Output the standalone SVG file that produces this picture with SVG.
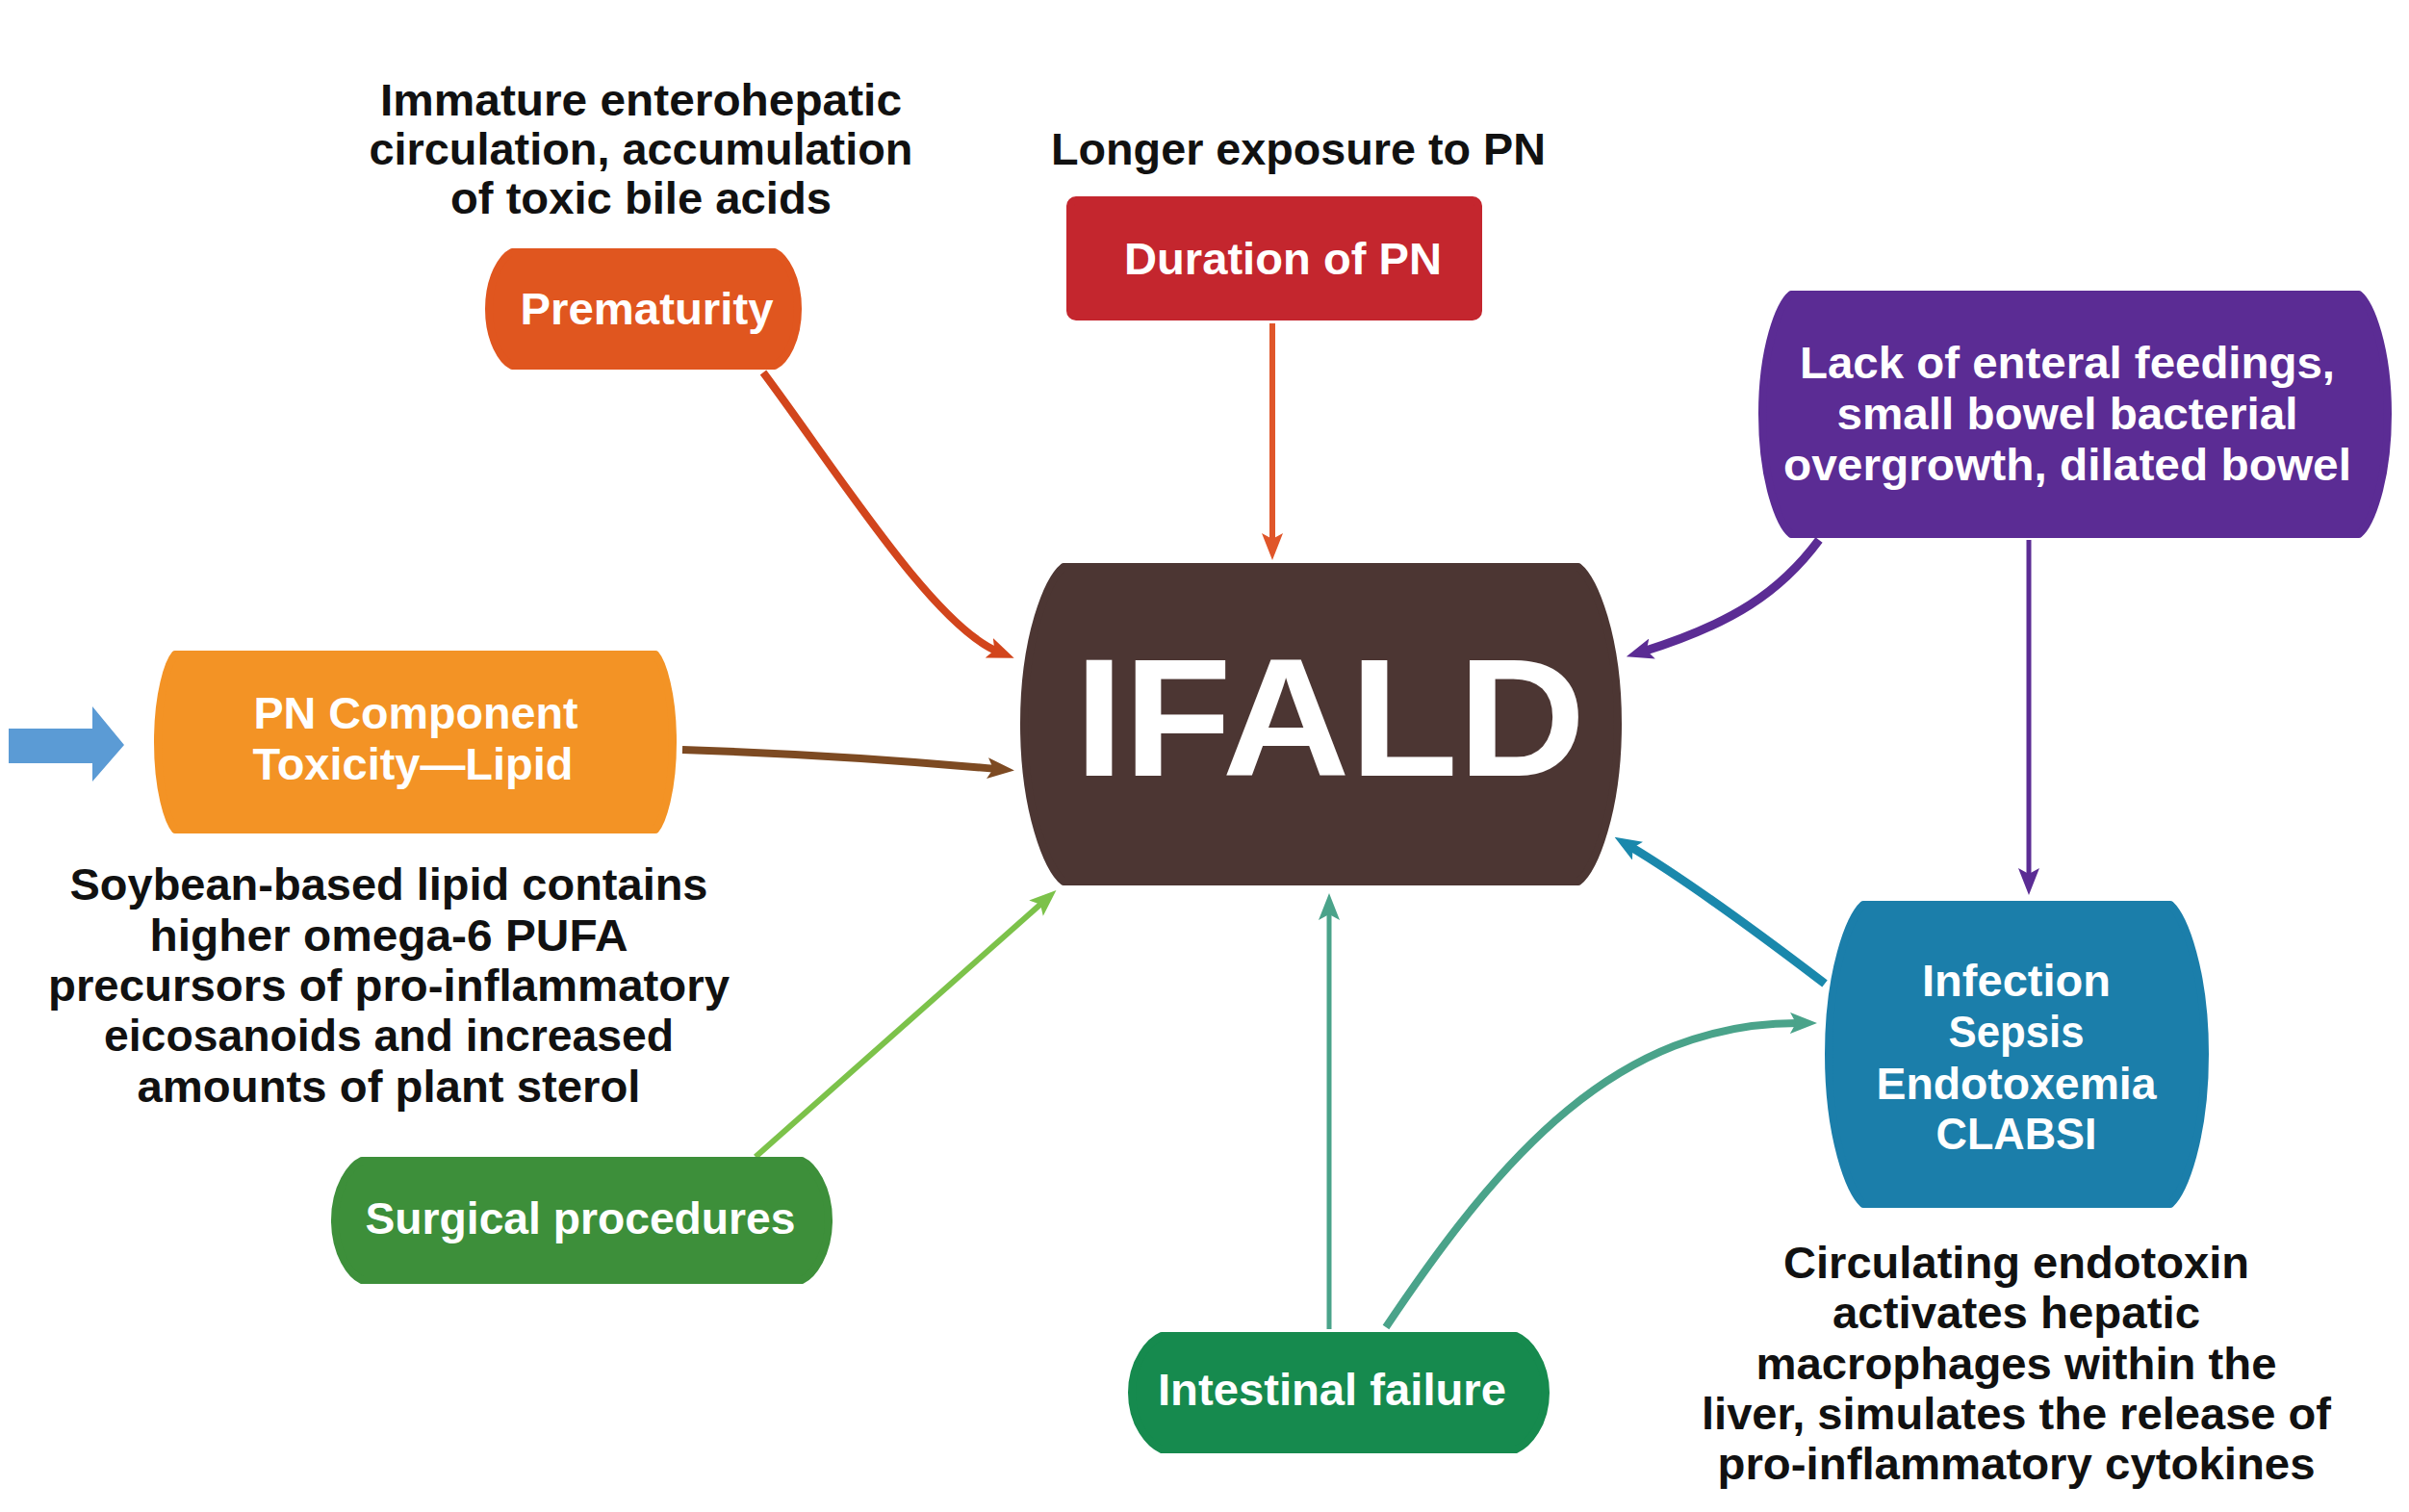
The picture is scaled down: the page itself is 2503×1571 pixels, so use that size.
<svg xmlns="http://www.w3.org/2000/svg" width="2503" height="1571" viewBox="0 0 2503 1571">
<style>
.d{font-family:"Liberation Sans",Arial,sans-serif;font-weight:700;font-size:46px;fill:#111;text-anchor:middle}
.n{font-family:"Liberation Sans",Arial,sans-serif;font-weight:700;font-size:46px;fill:#fff;text-anchor:middle}
.big{font-family:"Liberation Sans",Arial,sans-serif;font-weight:700;font-size:175px;fill:#fff;text-anchor:middle}
.c{fill:none;stroke-linecap:butt}
.box{stroke-width:8;stroke-linejoin:round}
</style>
<defs>
<marker id="mRed" viewBox="0 0 28 22" refX="10" refY="11" markerWidth="28" markerHeight="22" markerUnits="userSpaceOnUse" orient="auto"><path d="M0,0 L28,11 L0,22 L6,11 z" fill="#d2451c"/></marker>
<marker id="mOr" viewBox="0 0 28 22" refX="10" refY="11" markerWidth="28" markerHeight="22" markerUnits="userSpaceOnUse" orient="auto"><path d="M0,0 L28,11 L0,22 L6,11 z" fill="#e0562a"/></marker>
<marker id="mPur" viewBox="0 0 28 22" refX="10" refY="11" markerWidth="28" markerHeight="22" markerUnits="userSpaceOnUse" orient="auto"><path d="M0,0 L28,11 L0,22 L6,11 z" fill="#5b2c94"/></marker>
<marker id="mBr" viewBox="0 0 28 22" refX="10" refY="11" markerWidth="28" markerHeight="22" markerUnits="userSpaceOnUse" orient="auto"><path d="M0,0 L28,11 L0,22 L6,11 z" fill="#7d4a22"/></marker>
<marker id="mGr" viewBox="0 0 28 22" refX="10" refY="11" markerWidth="28" markerHeight="22" markerUnits="userSpaceOnUse" orient="auto"><path d="M0,0 L28,11 L0,22 L6,11 z" fill="#7cc24a"/></marker>
<marker id="mTe" viewBox="0 0 28 22" refX="10" refY="11" markerWidth="28" markerHeight="22" markerUnits="userSpaceOnUse" orient="auto"><path d="M0,0 L28,11 L0,22 L6,11 z" fill="#4aa38a"/></marker>
<marker id="mBl" viewBox="0 0 28 22" refX="10" refY="11" markerWidth="28" markerHeight="22" markerUnits="userSpaceOnUse" orient="auto"><path d="M0,0 L28,11 L0,22 L6,11 z" fill="#1a88ac"/></marker>
</defs>
<rect width="2503" height="1571" fill="#fff"/>

<g id="connectors">
<path class="c" d="M793,387 C870,490 970,650 1037,677" stroke="#d2451c" stroke-width="8" marker-end="url(#mRed)"/>
<path class="c" d="M1322,336 L1322,564" stroke="#e0562a" stroke-width="6" marker-end="url(#mOr)"/>
<path class="c" d="M1890,561 C1850,615 1800,648 1707,677" stroke="#5b2c94" stroke-width="9" marker-end="url(#mPur)"/>
<path class="c" d="M2108,561 L2108,912" stroke="#5b2c94" stroke-width="5" marker-end="url(#mPur)"/>
<path class="c" d="M709,779 Q870,784 1036,799" stroke="#7d4a22" stroke-width="8" marker-end="url(#mBr)"/>
<path class="c" d="M785,1202 L1084,937" stroke="#7cc24a" stroke-width="6" marker-end="url(#mGr)"/>
<path class="c" d="M1381,1381 L1381,946" stroke="#4aa38a" stroke-width="5" marker-end="url(#mTe)"/>
<path class="c" d="M1440,1379 C1560,1200 1680,1062 1870,1063" stroke="#4aa38a" stroke-width="8" marker-end="url(#mTe)"/>
<path class="c" d="M1896,1022 Q1765,922 1693,879" stroke="#1a88ac" stroke-width="9" marker-end="url(#mBl)"/>
<polygon points="9,757 96,757 96,734 129,774 96,812 96,793 9,793" fill="#5b9bd5"/>
</g>

<g id="premature-note">
<text class="d" x="666" y="120" textLength="542" lengthAdjust="spacingAndGlyphs">Immature enterohepatic</text>
<text class="d" x="666" y="171" textLength="565" lengthAdjust="spacingAndGlyphs">circulation, accumulation</text>
<text class="d" x="666" y="222" textLength="396" lengthAdjust="spacingAndGlyphs">of toxic bile acids</text>
</g>

<g id="duration-note">
<text class="d" x="1349" y="171" textLength="514" lengthAdjust="spacingAndGlyphs">Longer exposure to PN</text>
</g>

<g id="premature">
<path class="box" d="M532,262 L805,262 C815,267 829,288 829,321 C829,354 815,375 805,380 L532,380 C522,375 508,354 508,321 C508,288 522,267 532,262 Z" fill="#e0561f" stroke="#e0561f"/>
<text class="n" x="672" y="337" textLength="263" lengthAdjust="spacingAndGlyphs">Prematurity</text>
</g>

<g id="duration">
<rect class="box" x="1112" y="208" width="424" height="121" rx="6" fill="#c4262e" stroke="#c4262e"/>
<text class="n" x="1333" y="285" textLength="330" lengthAdjust="spacingAndGlyphs">Duration of PN</text>
</g>

<g id="enteral">
<path class="box" d="M1861,306 L2451,306 C2463,316 2481,361 2481,430 C2481,500 2463,545 2451,555 L1861,555 C1849,545 1831,500 1831,430 C1831,361 1849,316 1861,306 Z" fill="#5b2c94" stroke="#5b2c94"/>
<text class="n" x="2148" y="393" textLength="556" lengthAdjust="spacingAndGlyphs">Lack of enteral feedings,</text>
<text class="n" x="2148" y="446" textLength="479" lengthAdjust="spacingAndGlyphs">small bowel bacterial</text>
<text class="n" x="2148" y="499" textLength="590" lengthAdjust="spacingAndGlyphs">overgrowth, dilated bowel</text>
</g>

<g id="ifald">
<path class="box" d="M1105,589 L1640,589 C1656,602 1681,661 1681,752 C1681,844 1656,903 1640,916 L1105,916 C1089,903 1064,844 1064,752 C1064,661 1089,602 1105,589 Z" fill="#4c3633" stroke="#4c3633"/>
<text class="big" x="1382" y="806" textLength="531" lengthAdjust="spacingAndGlyphs">IFALD</text>
</g>

<g id="pn-component">
<path class="box" d="M182,680 L681,680 C688,688 699,720 699,771 C699,822 688,854 681,862 L182,862 C175,854 164,822 164,771 C164,720 175,688 182,680 Z" fill="#f39325" stroke="#f39325"/>
<text class="n" x="432" y="757" textLength="337" lengthAdjust="spacingAndGlyphs">PN Component</text>
<text class="n" x="429" y="810" textLength="333" lengthAdjust="spacingAndGlyphs">Toxicity—Lipid</text>
</g>

<g id="soybean-note">
<text class="d" x="404" y="935" textLength="663" lengthAdjust="spacingAndGlyphs">Soybean-based lipid contains</text>
<text class="d" x="404" y="988" textLength="497" lengthAdjust="spacingAndGlyphs">higher omega-6 PUFA</text>
<text class="d" x="404" y="1040" textLength="708" lengthAdjust="spacingAndGlyphs">precursors of pro-inflammatory</text>
<text class="d" x="404" y="1092" textLength="592" lengthAdjust="spacingAndGlyphs">eicosanoids and increased</text>
<text class="d" x="404" y="1145" textLength="523" lengthAdjust="spacingAndGlyphs">amounts of plant sterol</text>
</g>

<g id="surgical">
<path class="box" d="M376,1206 L833,1206 C844,1211 861,1233 861,1268 C861,1303 844,1325 833,1330 L376,1330 C365,1325 348,1303 348,1268 C348,1233 365,1211 376,1206 Z" fill="#3d8f3a" stroke="#3d8f3a"/>
<text class="n" x="603" y="1282" textLength="447" lengthAdjust="spacingAndGlyphs">Surgical procedures</text>
</g>

<g id="intestinal">
<path class="box" d="M1207,1388 L1575,1388 C1587,1393 1606,1414 1606,1447 C1606,1480 1587,1501 1575,1506 L1207,1506 C1195,1501 1176,1480 1176,1447 C1176,1414 1195,1393 1207,1388 Z" fill="#168a4e" stroke="#168a4e"/>
<text class="n" x="1384" y="1460" textLength="362" lengthAdjust="spacingAndGlyphs">Intestinal failure</text>
</g>

<g id="infection">
<path class="box" d="M1936,940 L2255,940 C2269,953 2291,1008 2291,1095 C2291,1183 2269,1238 2255,1251 L1936,1251 C1922,1238 1900,1183 1900,1095 C1900,1008 1922,953 1936,940 Z" fill="#1b7eaa" stroke="#1b7eaa"/>
<text class="n" x="2095" y="1035" textLength="196" lengthAdjust="spacingAndGlyphs">Infection</text>
<text class="n" x="2095" y="1088" textLength="141" lengthAdjust="spacingAndGlyphs">Sepsis</text>
<text class="n" x="2095" y="1142" textLength="291" lengthAdjust="spacingAndGlyphs">Endotoxemia</text>
<text class="n" x="2095" y="1194" textLength="167" lengthAdjust="spacingAndGlyphs">CLABSI</text>
</g>

<g id="endotoxin-note">
<text class="d" x="2095" y="1328" textLength="484" lengthAdjust="spacingAndGlyphs">Circulating endotoxin</text>
<text class="d" x="2095" y="1380" textLength="382" lengthAdjust="spacingAndGlyphs">activates hepatic</text>
<text class="d" x="2095" y="1433" textLength="541" lengthAdjust="spacingAndGlyphs">macrophages within the</text>
<text class="d" x="2095" y="1485" textLength="654" lengthAdjust="spacingAndGlyphs">liver, simulates the release of</text>
<text class="d" x="2095" y="1537" textLength="621" lengthAdjust="spacingAndGlyphs">pro-inflammatory cytokines</text>
</g>
</svg>
